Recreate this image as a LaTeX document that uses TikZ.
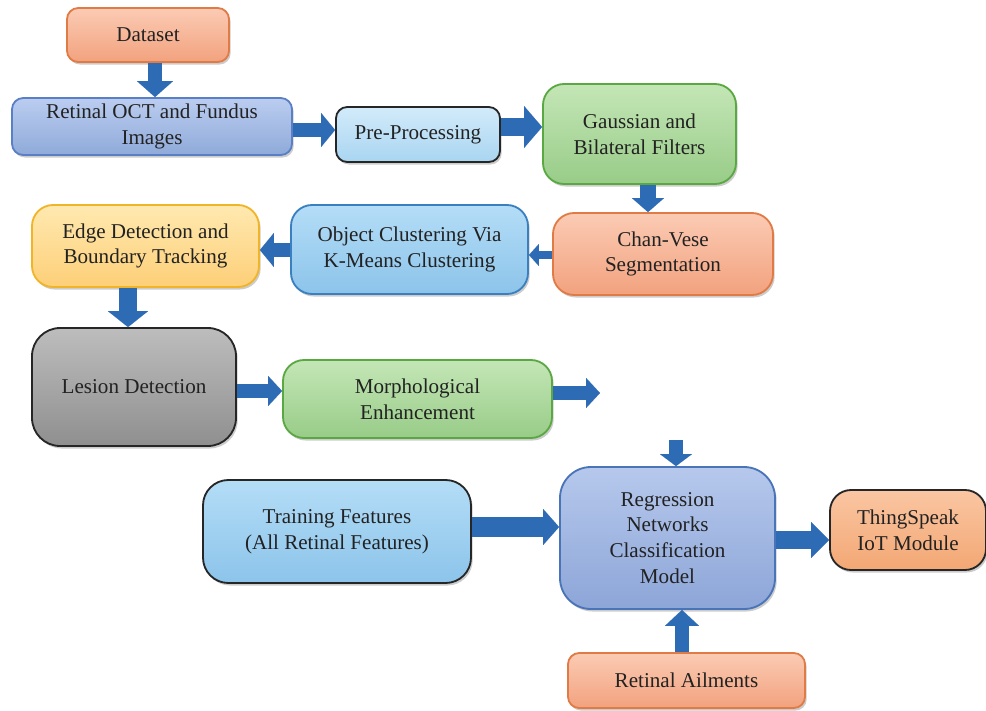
\documentclass[tikz,border=0pt]{standalone}
\usepackage{fontspec}
\setmainfont{Liberation Serif}
\usetikzlibrary{arrows.meta,shadows}
\definecolor{txt}{HTML}{222222}
\definecolor{arrc}{HTML}{2E6BB5}
\definecolor{orT}{HTML}{FBCBB4}\definecolor{orB}{HTML}{F2A27E}\definecolor{orD}{HTML}{E07B45}
\definecolor{blT}{HTML}{BBCDF0}\definecolor{blB}{HTML}{8FAAD9}\definecolor{blD}{HTML}{5B7FC4}
\definecolor{lbT}{HTML}{D2EBFA}\definecolor{lbB}{HTML}{A9D5F1}
\definecolor{grT}{HTML}{C4E6B6}\definecolor{grB}{HTML}{98CC88}\definecolor{grD}{HTML}{5AA842}
\definecolor{skT}{HTML}{B4DDF7}\definecolor{skB}{HTML}{8CC4EA}\definecolor{skD}{HTML}{3A7FBF}
\definecolor{yeT}{HTML}{FFE9B0}\definecolor{yeB}{HTML}{FDCF78}\definecolor{yeD}{HTML}{F0B429}
\definecolor{gyT}{HTML}{BDBDBD}\definecolor{gyB}{HTML}{8F8F8F}
\definecolor{rgT}{HTML}{B6C8EC}\definecolor{rgB}{HTML}{8DA6D8}\definecolor{rgD}{HTML}{4A74B8}
\definecolor{tsT}{HTML}{FAC6A2}\definecolor{tsB}{HTML}{F3A774}
\newcommand{\bx}[7]{\node[#6, minimum width={(#4-#2)*0.025cm}, minimum height={(#5-#3)*0.025cm}] (#1) at ({(#2+#4)/2},{(#3+#5)/2}) {#7};}
\tikzset{
  box/.style={rectangle, rounded corners=8pt, line width=1.3pt, align=center, inner sep=0pt,
    text=txt, font=\fontsize{15}{18.4}\selectfont,
    drop shadow={shadow xshift=1.2pt, shadow yshift=-1.8pt, opacity=0.4}},
  bigr/.style={rounded corners=15pt},
  orangebox/.style={box, top color=orT, bottom color=orB, draw=orD},
  bluebox/.style={box, top color=blT, bottom color=blB, draw=blD},
  prebox/.style={box, top color=lbT, bottom color=lbB, draw=black!85},
  greenbox/.style={box, top color=grT, bottom color=grB, draw=grD},
  skybox/.style={box, top color=skT, bottom color=skB, draw=skD},
  yellowbox/.style={box, top color=yeT, bottom color=yeB, draw=yeD},
  graybox/.style={box, top color=gyT, bottom color=gyB, draw=black!85},
  trainbox/.style={box, top color=skT, bottom color=skB, draw=black!85},
  regbox/.style={box, top color=rgT, bottom color=rgB, draw=rgD},
  thingbox/.style={box, top color=tsT, bottom color=tsB, draw=black!85},
  barrow/.style n args={3}{draw=arrc, line width=#1, -{Triangle[width=#2, length=#3, line width=0.01pt, fill=arrc]}}
}
\begin{document}
\begin{tikzpicture}[x=0.025cm, y=-0.025cm]
\useasboundingbox (0,0) rectangle (986,710);
\bx{dataset}{67}{8}{229}{62}{orangebox}{Dataset}
\bx{oct}{12}{98}{292}{155}{bluebox}{Retinal OCT and Fundus\\Images}
\bx{pre}{336}{107}{500}{162}{prebox}{Pre-Processing}
\bx{gauss}{543}{84}{736}{184}{greenbox,bigr}{Gaussian and\\Bilateral Filters}
\bx{chan}{553}{213}{773}{295}{orangebox,bigr}{Chan-Vese\\Segmentation}
\bx{obj}{291}{205}{528}{294}{skybox,bigr}{Object Clustering Via\\K-Means Clustering}
\bx{edge}{32}{205}{259}{287}{yellowbox,bigr}{Edge Detection and\\Boundary Tracking}
\bx{lesion}{32}{328}{236}{446}{graybox,rounded corners=20pt}{Lesion Detection}
\bx{morph}{283}{360}{552}{438}{greenbox,bigr}{Morphological\\Enhancement}
\bx{train}{203}{480}{471}{583}{trainbox,rounded corners=18pt}{Training Features\\(All Retinal Features)}
\bx{reg}{560}{467}{775}{609}{regbox,rounded corners=22pt}{Regression\\Networks\\Classification\\Model}
\bx{thing}{830}{490}{986}{570}{thingbox,bigr}{ThingSpeak\\IoT Module}
\bx{ail}{568}{653}{805}{708}{orangebox}{Retinal Ailments}
\coordinate (mout) at (600,393);
\coordinate (rin) at (676,440);
\draw[barrow={9.9pt}{25.5pt}{11.3pt}] (dataset.south -| 155,0) -- (oct.north -| 155,0);
\draw[barrow={9.9pt}{24.1pt}{9.9pt}] (oct.east |- 0,130) -- (pre.west |- 0,130);
\draw[barrow={12.8pt}{29.8pt}{12.8pt}] (pre.east |- 0,127) -- (gauss.west |- 0,127);
\draw[barrow={11.3pt}{22.7pt}{9.9pt}] (gauss.south -| 648,0) -- (chan.north -| 648,0);
\draw[barrow={5.7pt}{15.6pt}{7.1pt}] (chan.west |- 0,255) -- (obj.east |- 0,255);
\draw[barrow={9.9pt}{24.1pt}{9.9pt}] (obj.west |- 0,250) -- (edge.east |- 0,250);
\draw[barrow={12.8pt}{28.4pt}{11.3pt}] (edge.south -| 128,0) -- (lesion.north -| 128,0);
\draw[barrow={9.9pt}{21.3pt}{9.9pt}] (lesion.east |- 0,391) -- (morph.west |- 0,391);
\draw[barrow={9.9pt}{21.3pt}{9.9pt}] (morph.east |- mout) -- (mout);
\draw[barrow={9.9pt}{22.7pt}{8.5pt}] (rin) -- (reg.north -| rin);
\draw[barrow={14.2pt}{25.5pt}{11.3pt}] (train.east |- 0,527) -- (reg.west |- 0,527);
\draw[barrow={12.8pt}{25.5pt}{12.8pt}] (reg.east |- 0,540) -- (thing.west |- 0,540);
\draw[barrow={9.9pt}{24.1pt}{11.3pt}] (ail.north -| 682,0) -- (reg.south -| 682,0);
\end{tikzpicture}
\end{document}
